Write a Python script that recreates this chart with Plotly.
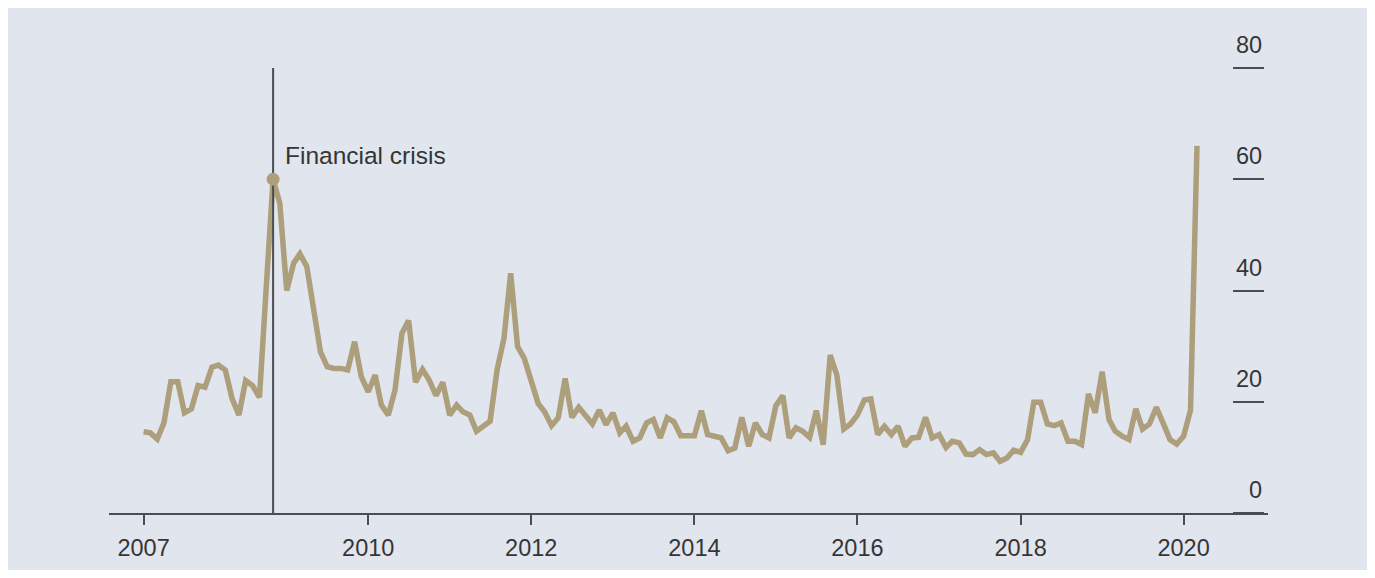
import pandas as pd
import plotly.graph_objects as go

# Monthly index readings, April 2007 - February 2020
monthly_values = [
    14.6, 14.4, 13.3, 16.2, 23.6, 23.6, 18.0, 18.7, 22.9, 22.6,
    26.2, 26.6, 25.7, 20.6, 17.6, 23.8, 22.9, 20.8, 40.4, 60.0,
    55.7, 40.0, 44.9, 46.6, 44.3, 36.5, 29.0, 26.3, 26.0, 26.0,
    25.7, 30.8, 24.5, 21.8, 24.8, 19.4, 17.6, 22.1, 32.3, 34.6,
    23.5, 25.8, 23.9, 21.1, 23.5, 17.6, 19.4, 18.2, 17.6, 14.7,
    15.6, 16.5, 25.7, 31.4, 43.1, 29.9, 27.8, 23.6, 19.7, 18.2,
    15.7, 17.1, 24.2, 17.2, 19.0, 17.5, 16.0, 18.5, 15.9, 18.0,
    14.4, 15.6, 12.9, 13.5, 16.2, 16.8, 13.5, 17.1, 16.4, 13.9,
    13.9, 13.9, 18.4, 14.1, 13.8, 13.5, 11.2, 11.7, 17.2, 12.0,
    16.2, 14.1, 13.5, 19.3, 21.1, 13.5, 15.3, 14.7, 13.6, 18.4,
    12.3, 28.4, 24.8, 15.1, 16.0, 17.6, 20.3, 20.5, 14.1, 15.6,
    14.1, 15.6, 12.0, 13.5, 13.6, 17.2, 13.5, 14.1, 11.8, 12.9,
    12.6, 10.6, 10.5, 11.4, 10.5, 10.8, 9.3, 9.9, 11.3, 10.9,
    13.2, 19.9, 19.9, 16.0, 15.7, 16.2, 12.9, 12.9, 12.3, 21.4,
    18.0, 25.4, 16.8, 14.7, 13.8, 13.2, 18.7, 15.1, 16.0, 19.0,
    16.2, 13.2, 12.4, 13.8, 18.5,
]
monthly_dates = pd.date_range("2007-04-01", periods=len(monthly_values), freq="MS")

# Latest readings at the start of 2020
recent_dates = pd.to_datetime(["2020-02-15", "2020-03-01"])
recent_values = [40.1, 66.0]

dates = list(monthly_dates) + list(recent_dates)
values = monthly_values + recent_values

crisis_date = pd.Timestamp("2008-11-01")
crisis_value = values[dates.index(crisis_date)]
crisis_label = "Financial crisis"

x_tick_dates = ["2007-04-01", "2010-01-01", "2012-01-01", "2014-01-01",
                "2016-01-01", "2018-01-01", "2020-01-01"]
x_tick_labels = ["2007", "2010", "2012", "2014", "2016", "2018", "2020"]
y_ticks = [0, 20, 40, 60, 80]

LINE = "#ad9f7c"
INK = "#4a4d53"
TEXT = "#353535"
PANEL = "#e1e5ed"
FONT = "Liberation Sans, Arial, sans-serif"

fig = go.Figure()

fig.add_trace(go.Scatter(
    x=dates, y=values, mode="lines",
    line=dict(color=LINE, width=5.5, shape="linear"),
    hoverinfo="skip", showlegend=False,
))

# Vertical marker line for the crisis
fig.add_trace(go.Scatter(
    x=[crisis_date, crisis_date], y=[y_ticks[0], y_ticks[-1]], mode="lines",
    line=dict(color=INK, width=2),
    hoverinfo="skip", showlegend=False,
))

fig.add_trace(go.Scatter(
    x=[crisis_date], y=[crisis_value], mode="markers",
    marker=dict(color=LINE, size=13, line=dict(width=0)),
    hoverinfo="skip", showlegend=False,
))

annotations = [
    dict(x=crisis_date, y=crisis_value, xref="x", yref="y",
         text=crisis_label, showarrow=False, xanchor="left", yanchor="middle",
         xshift=10, yshift=24, font=dict(family=FONT, size=24.5, color=TEXT)),
]
for v in y_ticks:
    annotations.append(dict(
        x=0.9968, y=v, xref="paper", yref="y", text=str(v), showarrow=False,
        xanchor="right", yanchor="middle", yshift=23,
        font=dict(family=FONT, size=23.5, color=TEXT),
    ))

fig.update_layout(
    width=1375, height=578,
    margin=dict(l=109, r=107, t=68, b=65),
    paper_bgcolor="white",
    plot_bgcolor=PANEL,
    font=dict(family=FONT, size=23, color=TEXT),
    showlegend=False,
    annotations=annotations,
    shapes=[dict(type="rect", xref="paper", yref="paper",
                 x0=-0.0871, x1=1.0854, y0=-0.128, y1=1.1348,
                 fillcolor=PANEL, line=dict(width=0), layer="below")],
    xaxis=dict(
        type="date",
        range=["2006-10-28", "2021-01-13"],
        tickvals=x_tick_dates, ticktext=x_tick_labels,
        ticks="outside", ticklen=10, tickwidth=2, tickcolor=INK,
        ticklabelstandoff=3,
        showline=True, linecolor=INK, linewidth=2,
        showgrid=False, zeroline=False,
        tickfont=dict(family=FONT, size=23.5, color=TEXT),
        fixedrange=True,
    ),
    yaxis=dict(
        range=[0, 80],
        side="right", anchor="free", position=0.9689,
        tickvals=y_ticks, ticks="outside", ticklen=31, tickwidth=2,
        tickcolor=INK, showticklabels=False,
        showline=False, showgrid=False, zeroline=False,
        fixedrange=True,
    ),
)

fig.write_html("out.html")
